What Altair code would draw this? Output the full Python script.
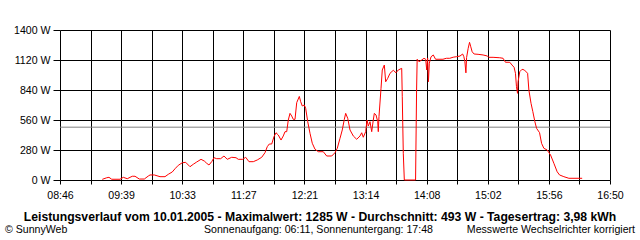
import json
import altair as alt
import pandas as pd

# --- data ---
time_labels = ["08:46", "09:39", "10:33", "11:27", "12:21", "13:14", "14:08", "15:02", "15:56", "16:50"]
y_ticks = [0, 280, 560, 840, 1120, 1400]
average_w = 493

minutes = [
    563.2, 567.1, 569.1, 571.5, 578.8, 581.7, 585.2, 589.6, 592.0, 595.8,
    600.2, 603.7, 605.2, 609.0, 614.0, 618.4, 621.3, 624.8, 627.2, 630.1,
    633.6, 636.6, 640.4, 643.3, 646.3, 650.1, 653.0, 655.1, 657.1, 659.5,
    661.5, 663.9, 667.4, 670.3, 673.2, 677.1, 680.9, 682.9, 686.8, 689.4,
    692.3, 696.1, 699.6, 703.5, 706.4, 708.4, 710.2, 712.3, 714.3, 716.1,
    718.1, 720.5, 722.5, 724.0, 725.5, 726.9, 728.4, 729.9, 731.3, 732.8,
    734.3, 736.6, 737.8, 739.2, 741.0, 742.2, 744.0, 746.0, 748.0, 750.4,
    753.3, 757.7, 760.7, 765.1, 768.0, 770.0, 772.4, 774.4, 776.2, 777.4,
    779.2, 781.2, 784.1, 787.1, 790.0, 791.5, 792.9, 795.0, 796.2, 797.3,
    798.8, 800.3, 801.7, 802.6, 804.1, 805.6, 806.1, 806.7, 808.5, 809.6,
    811.4, 812.6, 814.4, 816.4, 819.3, 821.7, 823.7, 826.7, 827.2, 828.1,
    829.0, 838.9, 839.8, 840.3, 841.9, 844.3, 846.3, 847.8, 848.7, 849.5,
    850.2, 851.0, 852.5, 854.5, 856.5, 863.0, 866.0, 869.0, 872.0, 875.0,
    878.0, 880.3, 881.4, 882.3, 883.2, 883.8, 885.2, 886.4, 887.5, 888.7,
    890.4, 893.9, 898.3, 902.2, 903.3, 907.1, 913.0, 915.9, 918.0, 921.8,
    923.8, 925.6, 926.8, 927.7, 928.6, 929.1, 930.6, 932.6, 934.6, 937.5,
    938.6, 940.5, 942.1, 943.9, 945.4, 948.0, 949.8, 951.8, 954.7, 957.7,
    960.6, 963.5, 965.6, 969.4, 973.8, 985.5,
]
watts = [
    6, 21, 25, 7, 7, 25, 12, 35, 35, 9,
    9, 37, 47, 47, 31, 31, 53, 75, 105, 137,
    161, 165, 124, 147, 168, 193, 177, 156, 140, 171,
    208, 199, 199, 224, 193, 212, 208, 193, 193, 212,
    171, 171, 187, 212, 255, 311, 336, 336, 404, 441,
    420, 373, 411, 451, 451, 560, 622, 597, 566, 566,
    722, 780, 731, 691, 700, 669, 544, 436, 343, 287,
    264, 264, 224, 224, 255, 296, 389, 467, 566, 622,
    576, 467, 411, 380, 411, 441, 399, 451, 560, 504,
    544, 451, 560, 622, 607, 544, 451, 591, 856, 1027,
    1073, 917, 949, 996, 1024, 1001, 1027, 1042, 777, 250,
    0, 0, 840, 1127, 1104, 1120, 1136, 1127, 1027, 1139,
    917, 1090, 1150, 1167, 1127, 1127, 1136, 1136, 1146, 1151,
    1157, 1176, 1151, 1104, 1000, 1143, 1229, 1285, 1243, 1197,
    1176, 1173, 1167, 1157, 1145, 1145, 1141, 1136, 1099, 1099,
    1073, 1052, 996, 871, 809, 918, 1011, 1033, 1027, 996,
    840, 716, 638, 544, 482, 442, 342, 296, 280, 233,
    156, 77, 47, 31, 16, 16,
]

title_text = "Leistungsverlauf vom 10.01.2005 - Maximalwert: 1285 W - Durchschnitt: 493 W - Tagesertrag: 3,98 kWh"
footer_left = "© SunnyWeb"
footer_mid = "Sonnenaufgang: 06:11, Sonnenuntergang: 17:48"
footer_right = "Messwerte Wechselrichter korrigiert"

# --- build ---
def to_min(s):
    h, m = s.split(":")
    return int(h) * 60 + int(m)

t0 = to_min(time_labels[0])
t1 = to_min(time_labels[-1])
half = (t1 - t0) / ((len(time_labels) - 1) * 2)
grid_vals = [t0 + k * half for k in range((len(time_labels) - 1) * 2 + 1)]

FONT = "Liberation Sans"
FS = 10.6

df = pd.DataFrame({"t": minutes, "w": watts, "i": range(len(minutes))})

label_expr = (
    f"(round((datum.value - {t0}) / {half}) % 2) ? '' : "
    f"{json.dumps(time_labels)}[round((datum.value - {t0}) / {half} / 2)]"
)

x_scale = alt.Scale(domain=[t0, t1], nice=False, zero=False)
y_scale = alt.Scale(domain=[0, 1400], nice=False)

x_axis = alt.Axis(
    values=grid_vals, grid=True, gridColor="black", gridOpacity=1, gridWidth=1,
    domain=False, ticks=True, tickColor="black", tickSize=4, tickWidth=1,
    labelExpr=label_expr, labelFont=FONT, labelFontSize=FS, labelColor="black",
    labelPadding=6, labelFlush=False, labelOverlap=False, title=None,
)
y_axis = alt.Axis(
    values=y_ticks, grid=True, gridColor="black", gridOpacity=1, gridWidth=1,
    domain=False, ticks=True, tickColor="black", tickSize=7, tickWidth=1,
    labelExpr="datum.value + ' W'", labelFont=FONT, labelFontSize=FS,
    labelColor="black", labelPadding=3, labelOverlap=False, title=None,
)

line = alt.Chart(df).mark_line(color="#ff0000", strokeWidth=1, interpolate="linear").encode(
    x=alt.X("t:Q", scale=x_scale, axis=x_axis),
    y=alt.Y("w:Q", scale=y_scale, axis=y_axis),
    order="i:Q",
)

avg_rule = alt.Chart(pd.DataFrame({"avg": [average_w]})).mark_rule(
    color="#808080", strokeWidth=1
).encode(y=alt.Y("avg:Q", scale=y_scale, axis=y_axis))


def text_layer(txt, x, y, align, bold=False, size=FS):
    return alt.Chart(pd.DataFrame({"s": [txt]})).mark_text(
        align=align, baseline="alphabetic", font=FONT, fontSize=size,
        fontWeight="bold" if bold else "normal", color="black",
    ).encode(text="s:N", x=alt.value(x), y=alt.value(y))


title_l = text_layer(title_text, 260, 191, "center", bold=True, size=12.2)
f1 = text_layer(footer_left, -55, 203, "left")
f2 = text_layer(footer_mid, 144, 203, "left")
f3 = text_layer(footer_right, 575, 203, "right")

chart = alt.layer(avg_rule, line, title_l, f1, f2, f3).properties(
    width=550, height=150,
    autosize=alt.AutoSizeParams(type="none"),
    padding={"left": 60, "top": 30, "right": 30, "bottom": 60},
    background="white",
).configure_view(stroke=None)

chart.save("out.html", embed_options={"renderer": "svg", "actions": False})
